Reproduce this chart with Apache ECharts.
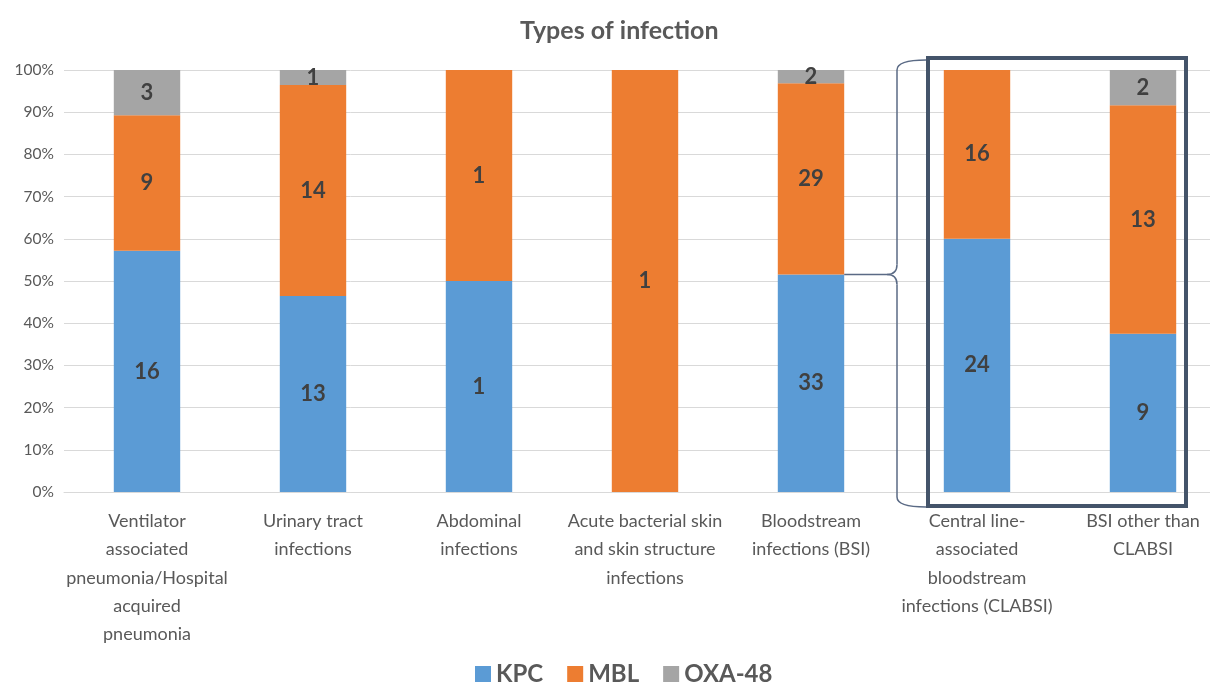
<!DOCTYPE html>
<html><head><meta charset="utf-8">
<script src="https://cdn.jsdelivr.net/npm/echarts@6/dist/echarts.min.js"></script>
<style>html,body{margin:0;padding:0;background:#fff}#c{width:1210px;height:691px}</style>
</head><body><div id="c"></div>
<script>
const categories = [
  "Ventilator\nassociated\npneumonia/Hospital\nacquired\npneumonia",
  "Urinary tract\ninfections",
  "Abdominal\ninfections",
  "Acute bacterial skin\nand skin structure\ninfections",
  "Bloodstream\ninfections (BSI)",
  "Central line-\nassociated\nbloodstream\ninfections (CLABSI)",
  "BSI other than\nCLABSI"
];
const kpc = [16, 13, 1, 0, 33, 24, 9];
const mbl = [9, 14, 1, 1, 29, 16, 13];
const oxa = [3, 1, 0, 0, 2, 0, 2];
const yTicks = [0, 10, 20, 30, 40, 50, 60, 70, 80, 90, 100];

const totals = kpc.map((v, i) => v + mbl[i] + oxa[i]);
const pct = arr => arr.map((v, i) => v / totals[i] * 100);

const FONT = 'Lato, "Open Sans", sans-serif';
const chart = echarts.init(document.getElementById('c'));
function mkSeries(name, counts, color) {
  return {
    name, type: 'bar', stack: 'all', barWidth: '40%',
    itemStyle: { color },
    data: pct(counts),
    label: {
      show: true, position: 'inside', fontFamily: FONT, fontWeight: 'bold',
      fontSize: 22, color: '#404040',
      formatter: p => counts[p.dataIndex] ? String(counts[p.dataIndex]) : ''
    }
  };
}
chart.setOption({
  animation: false,
  title: {
    text: 'Types of infection', left: 515, top: 13,
    textStyle: { fontFamily: FONT, fontWeight: 'bold', fontSize: 25, color: '#595959' }
  },
  legend: {
    bottom: 0, left: 470, itemWidth: 16, itemHeight: 16, itemGap: 24, icon: 'rect',
    textStyle: { fontFamily: FONT, fontWeight: 'bold', fontSize: 24, color: '#595959' }
  },
  grid: { left: 64, top: 70, width: 1162, bottom: 199, containLabel: false, outerBoundsMode: 'none' },
  xAxis: {
    type: 'category', data: categories,
    axisLine: { lineStyle: { color: '#d9d9d9' } },
    axisTick: { show: false },
    axisLabel: { interval: 0, fontFamily: FONT, fontSize: 18, lineHeight: 28.3, color: '#595959', margin: 15 }
  },
  yAxis: {
    type: 'value', min: 0, max: 100, interval: 10,
    axisLabel: { fontFamily: FONT, fontSize: 15.5, color: '#595959', margin: 10,
      formatter: v => yTicks.includes(v) ? v + '%' : '' },
    splitLine: { lineStyle: { color: '#d9d9d9' } },
    axisLine: { show: false }, axisTick: { show: false }
  },
  series: [
    mkSeries('KPC', kpc, '#5b9bd5'),
    mkSeries('MBL', mbl, '#ed7d31'),
    mkSeries('OXA-48', oxa, '#a5a5a5')
  ]
});

// annotation: box around the CLABSI split and bracket from the BSI bar
const px = (i, v) => chart.convertToPixel({ gridIndex: 0 }, [i, v]);
const step = px(1, 0)[0] - px(0, 0)[0];
const barW = step * 0.4;
const c4 = px(4, 0), c5 = px(5, 0), c6 = px(6, 0);
const y0 = c4[1], y100 = px(4, 100)[1];
const boxL = c5[0] - 51, boxR = c6[0] + 45, boxT = y100 - 14, boxB = y0 + 16;
const ym = px(4, kpc[4] / totals[4] * 100)[1];
const x0 = c4[0] + barW / 2;
const xv = boxL - 29;
const yt = boxT + 4, yb = boxB - 1;
const ls = { fill: 'none', stroke: '#5a6a85', lineWidth: 1.5 };
const r = 10;
chart.setOption({
  graphic: [
    { type: 'rect', shape: { x: boxL + 2, y: boxT + 2, width: boxR - boxL - 4, height: boxB - boxT - 4 },
      style: { fill: 'none', stroke: '#44546a', lineWidth: 4 }, z: 100 },
    { type: 'line', shape: { x1: x0, y1: ym, x2: xv - r, y2: ym }, style: ls, z: 100 },
    { type: 'bezierCurve', shape: { x1: xv - r, y1: ym, cpx1: xv, cpy1: ym, x2: xv, y2: ym - r }, style: ls, z: 100 },
    { type: 'bezierCurve', shape: { x1: xv - r, y1: ym, cpx1: xv, cpy1: ym, x2: xv, y2: ym + r }, style: ls, z: 100 },
    { type: 'line', shape: { x1: xv, y1: ym - r, x2: xv, y2: yt + r }, style: ls, z: 100 },
    { type: 'line', shape: { x1: xv, y1: ym + r, x2: xv, y2: yb - r }, style: ls, z: 100 },
    { type: 'bezierCurve', shape: { x1: xv, y1: yt + r, cpx1: xv, cpy1: yt, x2: boxL, y2: yt }, style: ls, z: 100 },
    { type: 'bezierCurve', shape: { x1: xv, y1: yb - r, cpx1: xv, cpy1: yb, x2: boxL, y2: yb }, style: ls, z: 100 }
  ]
});
</script></body></html>
